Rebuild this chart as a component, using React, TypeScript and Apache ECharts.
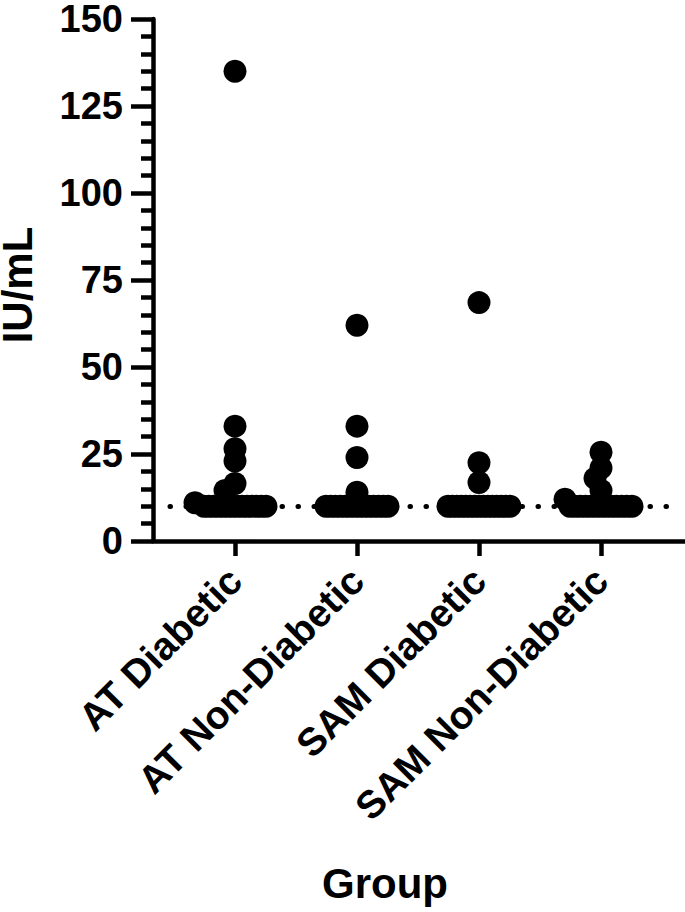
import React, { useEffect, useRef } from "react";
import * as echarts from "echarts";

// ---- Data ----
const categories = ["AT Diabetic", "AT Non-Diabetic", "SAM Diabetic", "SAM Non-Diabetic"];
const LOD = 10; // values at the limit of detection are plotted at 10
const atDiabetic = [135, 33, 26.5, 23, 16.5, 14.5, 11, 10, 10, 10, 10, 10, 10, 10, 10, 10, 10, 10, 10, 10, 10];
const atNonDiabetic = [62, 33, 24, 14, 10, 10, 10, 10, 10, 10, 10, 10, 10, 10, 10, 10, 10, 10];
const samDiabetic = [68.5, 22.5, 16.8, 10, 10, 10, 10, 10, 10, 10, 10, 10, 10, 10, 10, 10, 10, 10];
const samNonDiabetic = [25.5, 21, 18, 14.5, 12, 10, 10, 10, 10, 10, 10, 10, 10, 10, 10, 10, 10, 10];
const groups = [atDiabetic, atNonDiabetic, samDiabetic, samNonDiabetic];
const yTicks = { min: 0, max: 150, interval: 25 };

// ---- Layout ----
const W = 685;
const H = 912;
const GRID_LEFT = 153;
const GRID_TOP = 14;
const GRID_BOTTOM = 371;
const GRID_RIGHT = 0;
const FIRST_CAT_PX = 235;
const CAT_PX = 122;
const X_MIN = -(FIRST_CAT_PX - GRID_LEFT) / CAT_PX;
const X_MAX = X_MIN + (W - GRID_LEFT - GRID_RIGHT) / CAT_PX;
const PX_PER_Y = (H - GRID_TOP - GRID_BOTTOM) / (yTicks.max - yTicks.min);
const DOT = 23;
const LOD_SPREAD = 62;
const MD = DOT * 0.5;
const MD_LOD = DOT * 0.35;
const STEP = 2;
const LOD_LINE_START_PX = 170;
const LOD_LINE_END_PX = 678;
const FONT = "'Liberation Sans', Arial, Helvetica, sans-serif";

function swarm(values: number[], gi: number): number[][] {
  const pts: { x: number; y: number; v: number; lod: boolean }[] = [];
  const lods = values.filter((v) => v === LOD);
  const n = lods.length;
  lods.forEach((v, i) => {
    const x = n > 1 ? -LOD_SPREAD / 2 + (i * LOD_SPREAD) / (n - 1) : 0;
    pts.push({ x, y: v * PX_PER_Y, v, lod: true });
  });
  const others = values.filter((v) => v !== LOD).sort((a, b) => b - a);
  for (const v of others) {
    const y = v * PX_PER_Y;
    for (let k = 0; k < 400; k++) {
      const off = k === 0 ? 0 : (k % 2 === 1 ? -1 : 1) * Math.ceil(k / 2) * STEP;
      const ok = pts.every((p) => Math.hypot(p.x - off, p.y - y) >= (p.lod ? MD_LOD : MD));
      if (ok) {
        pts.push({ x: off, y, v, lod: false });
        break;
      }
    }
  }
  return pts.map((p) => [gi + p.x / CAT_PX, p.v]);
}

export default function App() {
  const ref = useRef<HTMLDivElement>(null);
  useEffect(() => {
    if (!ref.current) return;
    const chart = echarts.init(ref.current, null, { renderer: "svg" });
    const data: number[][] = [];
    groups.forEach((g, gi) => data.push(...swarm(g, gi)));
    const xs = X_MIN + (LOD_LINE_START_PX - GRID_LEFT) / CAT_PX;
    const xe = X_MIN + (LOD_LINE_END_PX - GRID_LEFT) / CAT_PX;
    const axisLineStyle = { color: "#000", width: 4.5 };
    chart.setOption({
      animation: false,
      backgroundColor: "#fff",
      grid: { left: GRID_LEFT, right: GRID_RIGHT, top: GRID_TOP, bottom: GRID_BOTTOM, containLabel: false },
      xAxis: {
        type: "value",
        min: X_MIN,
        max: X_MAX,
        axisLine: { show: true, onZero: false, lineStyle: axisLineStyle },
        axisTick: { show: true, customValues: [0, 1, 2, 3], length: 15, lineStyle: axisLineStyle },
        axisLabel: {
          show: true,
          customValues: [0, 1, 2, 3],
          formatter: (v: number) => categories[Math.round(v)] ?? "",
          rotate: 45,
          margin: 33,
          color: "#000",
          fontSize: 39,
          fontWeight: "bold",
          fontFamily: FONT,
        },
        splitLine: { show: false },
      },
      yAxis: {
        type: "value",
        min: yTicks.min,
        max: yTicks.max,
        interval: yTicks.interval,
        axisLine: { show: true, onZero: false, lineStyle: axisLineStyle },
        axisTick: { show: true, length: 22, lineStyle: axisLineStyle },
        minorTick: { show: true, splitNumber: 5, length: 12, lineStyle: axisLineStyle },
        axisLabel: {
          margin: 30,
          color: "#000",
          fontSize: 38,
          fontWeight: "bold",
          fontFamily: FONT,
          padding: [0, 0, 6, 0],
        },
        splitLine: { show: false },
      },
      series: [
        {
          type: "scatter",
          data,
          symbol: "circle",
          symbolSize: DOT,
          itemStyle: { color: "#000", opacity: 1 },
          markLine: {
            silent: true,
            symbol: ["none", "none"],
            label: { show: false },
            lineStyle: { color: "#000", width: 5, type: [0.5, 15.5], cap: "round" },
            data: [[{ coord: [xs, LOD] }, { coord: [xe, LOD] }]],
            z: 1,
          },
          z: 3,
        },
      ],
      graphic: [
        {
          type: "text",
          x: 17,
          y: 285,
          rotation: Math.PI / 2,
          style: {
            text: "IU/mL",
            fill: "#000",
            font: `bold 42px ${FONT}`,
            align: "center",
            verticalAlign: "middle",
          },
        },
        {
          type: "text",
          x: 385,
          y: 883,
          style: {
            text: "Group",
            fill: "#000",
            font: `bold 42px ${FONT}`,
            align: "center",
            verticalAlign: "middle",
          },
        },
      ],
    });
    return () => chart.dispose();
  }, []);
  return (
    <div
      ref={ref}
      style={{ position: "absolute", left: 0, top: 0, width: W, height: H }}
    />
  );
}
